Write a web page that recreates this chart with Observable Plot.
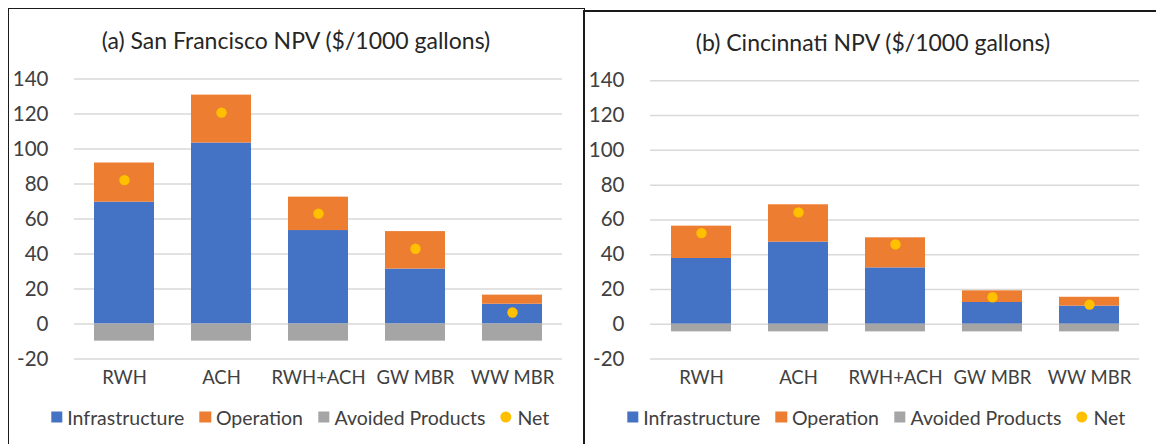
<!DOCTYPE html>
<html>
<head>
<meta charset="utf-8">
<script src="https://cdn.jsdelivr.net/npm/d3@7"></script>
<script src="https://cdn.jsdelivr.net/npm/@observablehq/plot@0.6"></script>
<style>
  html, body { margin: 0; padding: 0; background: #fff; }
  body { width: 1156px; height: 444px; overflow: hidden; position: relative; font-family: Lato, "Open Sans", sans-serif; }
  .border { position: absolute; box-sizing: border-box; }
  .title { position: absolute; white-space: nowrap; transform: translate(-50%, -50%); font-size: 23px; color: #262626; }
  .chart { position: absolute; }
  .legend { position: absolute; transform: translate(-50%, -50%); display: flex; align-items: center; white-space: nowrap; font-size: 19.5px; color: #404040; }
  .legend .item { display: flex; align-items: center; margin: 0 7.5px; }
  .legend .sw { width: 11.5px; height: 11.5px; margin-right: 5px; }
  .legend .dotsw { width: 11px; height: 11px; border-radius: 50%; margin-right: 6px; }
</style>
</head>
<body>
<div class="border" style="left:8px; top:8px; width:577px; height:460px; border:1.5px solid #1a1a1a;"></div>
<div class="border" style="left:583px; top:10px; width:600px; height:460px; border:2px solid #1a1a1a;"></div>
<div id="titleA" class="title" style="left:296px; top:40px;"></div>
<div id="titleB" class="title" style="left:873px; top:42px;"></div>
<div id="chartA" class="chart" style="left:0px; top:50px;"></div>
<div id="chartB" class="chart" style="left:576px; top:50px;"></div>
<div id="legendA" class="legend" style="left:300px; top:417px;"></div>
<div id="legendB" class="legend" style="left:876px; top:417px;"></div>
<script>
// ---- Data ----
const categories = ["RWH", "ACH", "RWH+ACH", "GW MBR", "WW MBR"];
const seriesNames = ["Infrastructure", "Operation", "Avoided Products", "Net"];
const seriesColors = ["#4472c4", "#ed7d31", "#a5a5a5", "#ffc000"];
const yTicks = [-20, 0, 20, 40, 60, 80, 100, 120, 140];

const titleA = "(a) San Francisco NPV ($/1000 gallons)";
const sfInfrastructure = [69.6, 103.4, 53.4, 31.4, 11.3];
const sfOperation = [22.4, 27.4, 19.1, 21.4, 5.2];
const sfAvoided = [-9.8, -9.8, -9.8, -9.8, -9.8];
const sfNet = [82.2, 120.8, 63.1, 43.0, 6.6];

const titleB = "(b) Cincinnati NPV ($/1000 gallons)";
const cinInfrastructure = [37.8, 47.2, 32.4, 12.5, 10.4];
const cinOperation = [18.6, 21.5, 17.3, 6.7, 5.1];
const cinAvoided = [-4.4, -4.4, -4.4, -4.4, -4.4];
const cinNet = [52.4, 64.3, 45.9, 15.5, 11.3];

function buildRows(infra, oper, avoided) {
  const rows = [];
  categories.forEach((c, i) => {
    rows.push({cat: c, series: seriesNames[0], value: infra[i]});
    rows.push({cat: c, series: seriesNames[1], value: oper[i]});
    rows.push({cat: c, series: seriesNames[2], value: avoided[i]});
  });
  return rows;
}

function makeChart(infra, oper, avoided, net, opts) {
  const rows = buildRows(infra, oper, avoided);
  const netRows = categories.map((c, i) => ({cat: c, value: net[i]}));
  return Plot.plot({
    width: opts.width,
    height: 350,
    marginLeft: opts.marginLeft,
    marginRight: opts.marginRight,
    marginTop: opts.marginTop,
    marginBottom: opts.marginBottom,
    style: {fontFamily: "Lato, 'Open Sans', sans-serif", fontSize: "19.5px", color: "#404040", background: "transparent", overflow: "visible"},
    x: {domain: categories, paddingInner: 0.385, paddingOuter: 0.1925, label: null},
    y: {domain: [-20, 140], label: null},
    color: {domain: seriesNames, range: seriesColors},
    marks: [
      Plot.ruleY(yTicks, {stroke: "#d9d9d9", strokeWidth: 1.5}),
      Plot.barY(rows, {x: "cat", y: "value", fill: "series"}),
      Plot.dot(netRows, {x: "cat", y: "value", r: 5.2, fill: seriesColors[3], stroke: null}),
      Plot.axisX({tickSize: 0, tickPadding: 12, fontSize: 18.5}),
      Plot.axisY({ticks: yTicks, tickSize: 0, tickPadding: 26, fontSize: 20.5, tickFormat: d => String(d)})
    ]
  });
}

function makeLegend(el) {
  seriesNames.forEach((name, i) => {
    const item = document.createElement("div");
    item.className = "item";
    const sw = document.createElement("div");
    sw.className = i === 3 ? "dotsw" : "sw";
    sw.style.background = seriesColors[i];
    const t = document.createElement("span");
    t.textContent = name;
    item.appendChild(sw);
    item.appendChild(t);
    el.appendChild(item);
  });
}

document.getElementById("titleA").textContent = titleA;
document.getElementById("titleB").textContent = titleB;
document.getElementById("chartA").appendChild(
  makeChart(sfInfrastructure, sfOperation, sfAvoided, sfNet,
    {width: 576, marginLeft: 74, marginRight: 14, marginTop: 28.5, marginBottom: 41.5}));
document.getElementById("chartB").appendChild(
  makeChart(cinInfrastructure, cinOperation, cinAvoided, cinNet,
    {width: 580, marginLeft: 74, marginRight: 17, marginTop: 30.3, marginBottom: 41.5}));
makeLegend(document.getElementById("legendA"));
makeLegend(document.getElementById("legendB"));
</script>
</body>
</html>
